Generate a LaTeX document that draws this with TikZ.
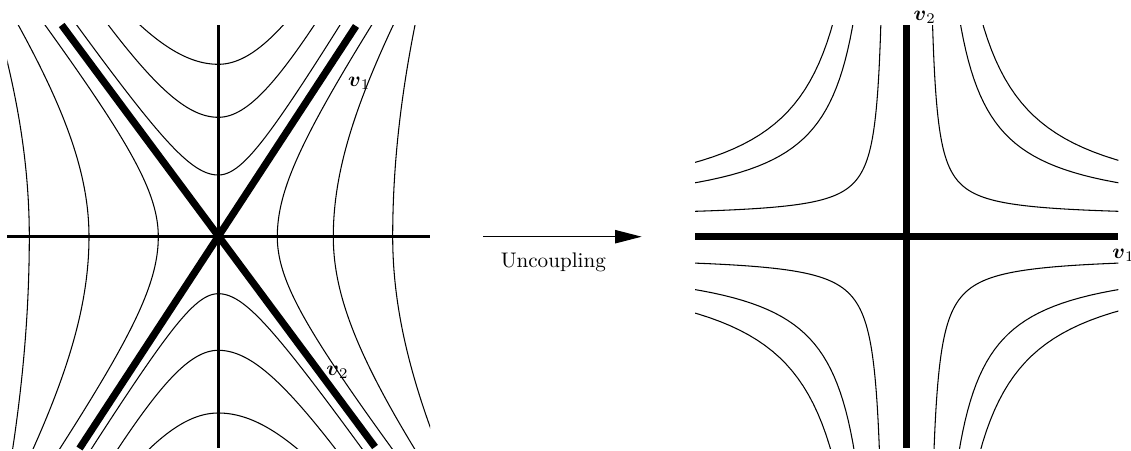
\documentclass[tikz,border=0pt]{standalone}
\usepackage{amsmath}
\usetikzlibrary{arrows.meta}
\tikzset{
  curve/.style={line width=0.5pt},
  axisline/.style={line width=1.6pt},
  heavyline/.style={line width=3.4pt},
  lbl/.style={anchor=base west, inner sep=0pt},
}
\newcommand{\tophyp}[3]{\draw[curve] plot[domain=-16:0,samples=80] ({21.83+\x},{23.67-sqrt((#1)^2+((#2)*\x)^2)}) -- plot[domain=0:16,samples=80] ({21.83+\x},{23.67-sqrt((#1)^2+((#3)*\x)^2)});}
\newcommand{\bothyp}[3]{\draw[curve] plot[domain=-16:0,samples=80] ({21.83+\x},{23.67+sqrt((#1)^2+((#2)*\x)^2)}) -- plot[domain=0:16,samples=80] ({21.83+\x},{23.67+sqrt((#1)^2+((#3)*\x)^2)});}
\newcommand{\lefthyp}[3]{\draw[curve] plot[domain=-24:0,samples=80] ({21.83-sqrt((#1)^2+((#2)*\x)^2)},{23.67+\x}) -- plot[domain=0:24,samples=80] ({21.83-sqrt((#1)^2+((#3)*\x)^2)},{23.67+\x});}
\newcommand{\righthyp}[3]{\draw[curve] plot[domain=-24:0,samples=80] ({21.83+sqrt((#1)^2+((#2)*\x)^2)},{23.67+\x}) -- plot[domain=0:24,samples=80] ({21.83+sqrt((#1)^2+((#3)*\x)^2)},{23.67+\x});}
% shifted hyperbola in a quadrant of the right picture: sx, sy, ax, ay, c
\newcommand{\quadhyp}[5]{\draw[curve] plot[domain=-2.8:2.8,samples=90] ({90.67+(#1)*((#3)+sqrt(#5)*exp(\x))},{23.67+(#2)*((#4)+sqrt(#5)*exp(-\x))});}
\begin{document}
\begin{tikzpicture}[x=4.735pt,y=-4.735pt]
\useasboundingbox (0,0) rectangle (113.1,45.0);
% ---------- left picture ----------
\begin{scope}
  \clip (0.73,2.5) rectangle (43.0,44.83);
  \tophyp{17.24}{1.569}{1.891}
  \tophyp{11.94}{1.589}{1.821}
  \tophyp{6.17}{1.430}{1.664}
  \bothyp{5.70}{1.610}{1.421}
  \bothyp{11.36}{1.785}{1.530}
  \bothyp{17.63}{1.713}{1.493}
  \lefthyp{6.0}{0.768}{0.692}
  \lefthyp{12.93}{0.721}{0.625}
  \lefthyp{18.9}{0.536}{0.382}
  \righthyp{5.9}{0.669}{0.771}
  \righthyp{11.5}{0.623}{0.750}
  \righthyp{17.44}{0.430}{0.632}
\end{scope}
\coordinate (LW) at (0.73,23.67);
\coordinate (LE) at (43.0,23.67);
\coordinate (LN) at (21.83,2.5);
\coordinate (LS) at (21.83,44.83);
\draw[axisline] (LW) -- (LE);
\draw[axisline] (LN) -- (LS);
\coordinate (DA1) at (6.17,2.5);
\coordinate (DA2) at (37.5,44.7);
\coordinate (DB1) at (35.6,2.6);
\coordinate (DB2) at (7.95,44.85);
\draw[heavyline] (DA1) -- (DA2);
\draw[heavyline] (DB1) -- (DB2);
\node[lbl] (lv1) at (34.77,8.67) {$\boldsymbol{v}_1$};
\node[lbl] (lv2) at (32.6,37.5) {$\boldsymbol{v}_2$};
% ---------- arrow ----------
\coordinate (arrS) at (48.33,23.67);
\coordinate (arrE) at (64.17,23.67);
\draw[line width=0.6pt,-{Triangle[length=12.6pt,width=6.3pt]}] (arrS) -- (arrE);
\node (unc) at (55.33,26.2) {Uncoupling};
% ---------- right picture ----------
\begin{scope}
  \clip (69.5,2.5) rectangle (111.83,44.8);
  % upper left
  \quadhyp{-1}{-1}{2}{1.95}{11.3}
  \quadhyp{-1}{-1}{2}{2}{65}
  \quadhyp{-1}{-1}{2}{2}{104}
  % upper right
  \quadhyp{1}{-1}{2}{1.95}{11.3}
  \quadhyp{1}{-1}{2}{2}{65}
  \quadhyp{1}{-1}{2}{2}{108}
  % lower left
  \quadhyp{-1}{1}{2}{1.9}{14.2}
  \quadhyp{-1}{1}{2}{2}{63}
  \quadhyp{-1}{1}{2}{2}{108}
  % lower right
  \quadhyp{1}{1}{2}{1.9}{14.2}
  \quadhyp{1}{1}{2}{2}{63}
  \quadhyp{1}{1}{2}{2}{104}
\end{scope}
\coordinate (RW) at (69.5,23.67);
\coordinate (RE) at (111.83,23.67);
\coordinate (RN) at (90.67,2.5);
\coordinate (RS) at (90.67,44.8);
\draw[heavyline] (RW) -- (RE);
\draw[heavyline] (RN) -- (RS);
\node[lbl] (rv2) at (91.33,2.0) {$\boldsymbol{v}_2$};
\node[lbl] (rv1) at (111.2,25.87) {$\boldsymbol{v}_1$};
\end{tikzpicture}
\end{document}
